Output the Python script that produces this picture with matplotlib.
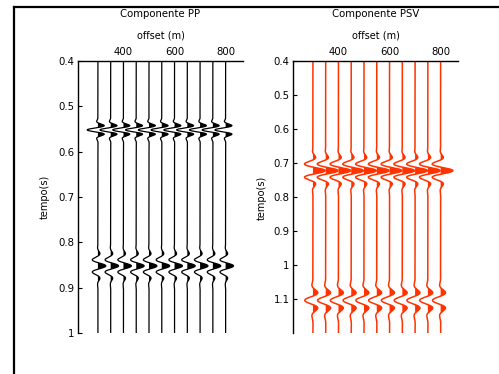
import numpy as np
import matplotlib
matplotlib.use("Agg")
import matplotlib.pyplot as plt
from matplotlib.lines import Line2D

plt.rcParams['font.family'] = ['DejaVu Sans']

# trace offsets (m), same for both panels
offsets = [300, 350, 400, 450, 500, 550, 600, 650, 700, 750, 800]

# reflection events: time (s), peak deflection (m),
# period (s) and envelope width (s) of each wavelet
pp_t0 = [0.552, 0.852]
pp_amp = [-42, 31]
pp_period = [0.021, 0.029]
pp_sigma = [0.0136, 0.024]

psv_t0 = [0.7225, 1.104]
psv_amp = [48, -32]
psv_period = [0.042, 0.050]
psv_sigma = [0.033, 0.0328]

x_ticks = [400, 600, 800]
pp_yticks = [0.4, 0.5, 0.6, 0.7, 0.8, 0.9, 1.0]
pp_ylabels = ['0.4', '0.5', '0.6', '0.7', '0.8', '0.9', '1']
psv_yticks = [0.4, 0.5, 0.6, 0.7, 0.8, 0.9, 1.0, 1.1]
psv_ylabels = ['0.4', '0.5', '0.6', '0.7', '0.8', '0.9', '1', '1.1']


def trace(t, t0s, amps, periods, sigmas):
    w = np.zeros_like(t)
    for t0, a, T, s in zip(t0s, amps, periods, sigmas):
        tau = t - t0
        w += a * np.cos(2 * np.pi * tau / T) * np.exp(-(tau / s) ** 2)
    return w


def wiggle_panel(ax, t, events, color, lw, yticks, ylabels, tmax):
    for x0 in offsets:
        w = trace(t, *events)
        ax.plot(x0 + w, t, color=color, lw=lw)
        ax.fill_betweenx(t, x0, x0 + w, where=w > 0, color=color, lw=0, interpolate=True)
    ax.set_xlim(222, 868)
    ax.set_ylim(tmax, 0.4)
    ax.xaxis.tick_top()
    ax.set_xticks(x_ticks)
    ax.set_yticks(yticks)
    ax.set_yticklabels(ylabels)
    ax.tick_params(axis='x', length=0, pad=3, labelsize=7.3)
    ax.tick_params(axis='y', direction='in', length=3, width=0.8, pad=2.5, labelsize=7.3)
    for side in ['right', 'bottom']:
        ax.spines[side].set_visible(False)
    for side in ['top', 'left']:
        ax.spines[side].set_linewidth(1.0)


fig = plt.figure(figsize=(4.99, 3.74), dpi=100)
W, H = 499, 374

ax1 = fig.add_axes([78 / W, (H - 333) / H, 165 / W, 272 / H])
ax2 = fig.add_axes([293 / W, (H - 333) / H, 165 / W, 272 / H])

t_pp = np.arange(0.4, 1.0005, 0.0005)
t_psv = np.arange(0.4, 1.2005, 0.0005)

wiggle_panel(ax1, t_pp, (pp_t0, pp_amp, pp_period, pp_sigma), 'black', 0.9,
             pp_yticks, pp_ylabels, 1.0)
wiggle_panel(ax2, t_psv, (psv_t0, psv_amp, psv_period, psv_sigma), '#ff3300', 1.1,
             psv_yticks, psv_ylabels, 1.2)

# titles and labels
fig.text(160.5 / W, 1 - 14 / H, 'Componente PP', ha='center', va='center', fontsize=7.3)
fig.text(375.5 / W, 1 - 14 / H, 'Componente PSV', ha='center', va='center', fontsize=7.3)
fig.text(160.5 / W, 1 - 36 / H, 'offset (m)', ha='center', va='center', fontsize=7)
fig.text(375.5 / W, 1 - 36 / H, 'offset (m)', ha='center', va='center', fontsize=7)
fig.text(45 / W, 1 - 197 / H, 'tempo(s)', rotation=90, ha='center', va='center', fontsize=7)
fig.text(262 / W, 1 - 198 / H, 'tempo(s)', rotation=90, ha='center', va='center', fontsize=7)

# page frame lines (top and left)
fig.add_artist(Line2D([14 / W, 1], [1 - 7 / H, 1 - 7 / H], color='black', lw=1.6))
fig.add_artist(Line2D([14 / W, 14 / W], [0, 1 - 7 / H], color='black', lw=1.6))

fig.savefig('out.png', dpi=100)
